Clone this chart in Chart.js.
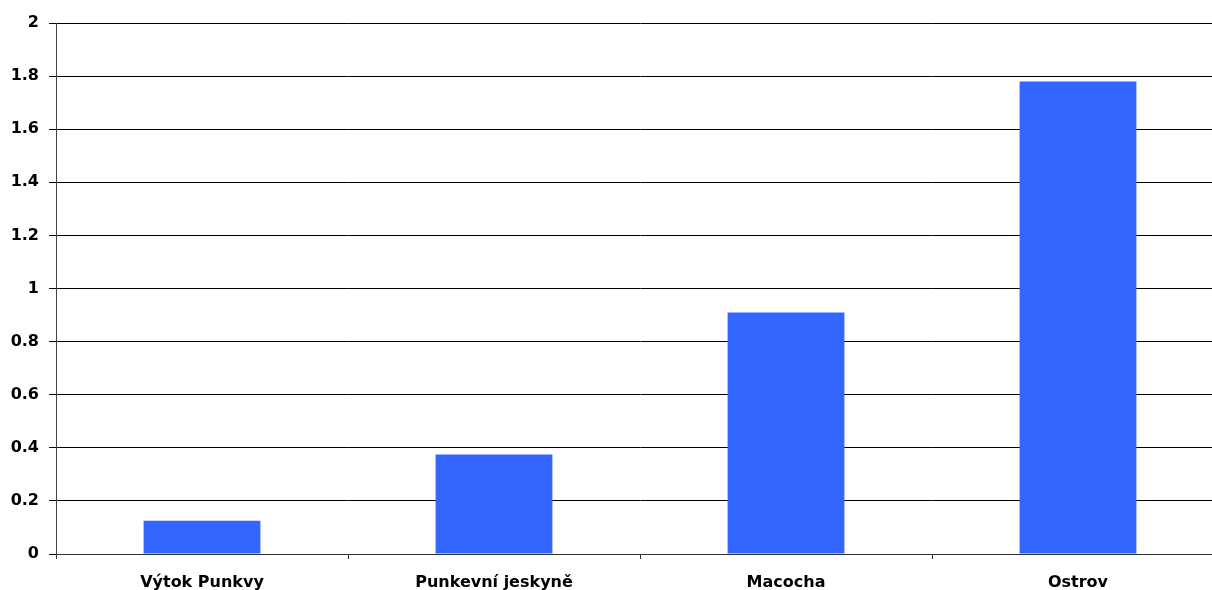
<!DOCTYPE html>
<html>
<head>
<meta charset="utf-8">
<script src="https://cdn.jsdelivr.net/npm/chart.js@4/dist/chart.umd.min.js"></script>
<style>
  html, body { margin: 0; padding: 0; background: #fff; }
  #wrap { width: 1212px; height: 590px; overflow: hidden; }
</style>
</head>
<body>
<div id="wrap"><canvas id="chart" width="1224" height="590"></canvas></div>
<script>
const categories = ['Výtok Punkvy', 'Punkevní jeskyně', 'Macocha', 'Ostrov'];
const values = [0.125, 0.375, 0.91, 1.78];
const yTicks = [0, 0.2, 0.4, 0.6, 0.8, 1, 1.2, 1.4, 1.6, 1.8, 2];

const font = { family: '"DejaVu Sans", sans-serif', weight: 'bold', size: 16 };

new Chart(document.getElementById('chart'), {
  type: 'bar',
  data: {
    labels: categories,
    datasets: [{
      data: values,
      backgroundColor: '#3366FF',
      borderWidth: 0,
      categoryPercentage: 1,
      barPercentage: 0.4
    }]
  },
  options: {
    responsive: false,
    animation: false,
    layout: { padding: { top: 23, left: 0, right: 0, bottom: 0 } },
    plugins: { legend: { display: false }, tooltip: { enabled: false } },
    scales: {
      x: {
        offset: true,
        grid: {
          offset: true,
          drawOnChartArea: false,
          drawTicks: true,
          tickLength: 5,
          color: '#333'
        },
        border: { color: '#333', width: 1 },
        ticks: { color: '#000', font, padding: 14, maxRotation: 0 },
        afterFit: s => { s.height = 36; }
      },
      y: {
        min: 0,
        max: 2,
        afterBuildTicks: s => { s.ticks = yTicks.map(v => ({ value: v })); },
        grid: { color: '#000', lineWidth: 1, tickLength: 7 },
        border: { color: '#444', width: 1 },
        ticks: {
          color: '#000',
          font,
          padding: 10,
          callback: v => String(+v.toFixed(1))
        },
        afterFit: s => { s.width = 56; }
      }
    }
  }
});
</script>
</body>
</html>
